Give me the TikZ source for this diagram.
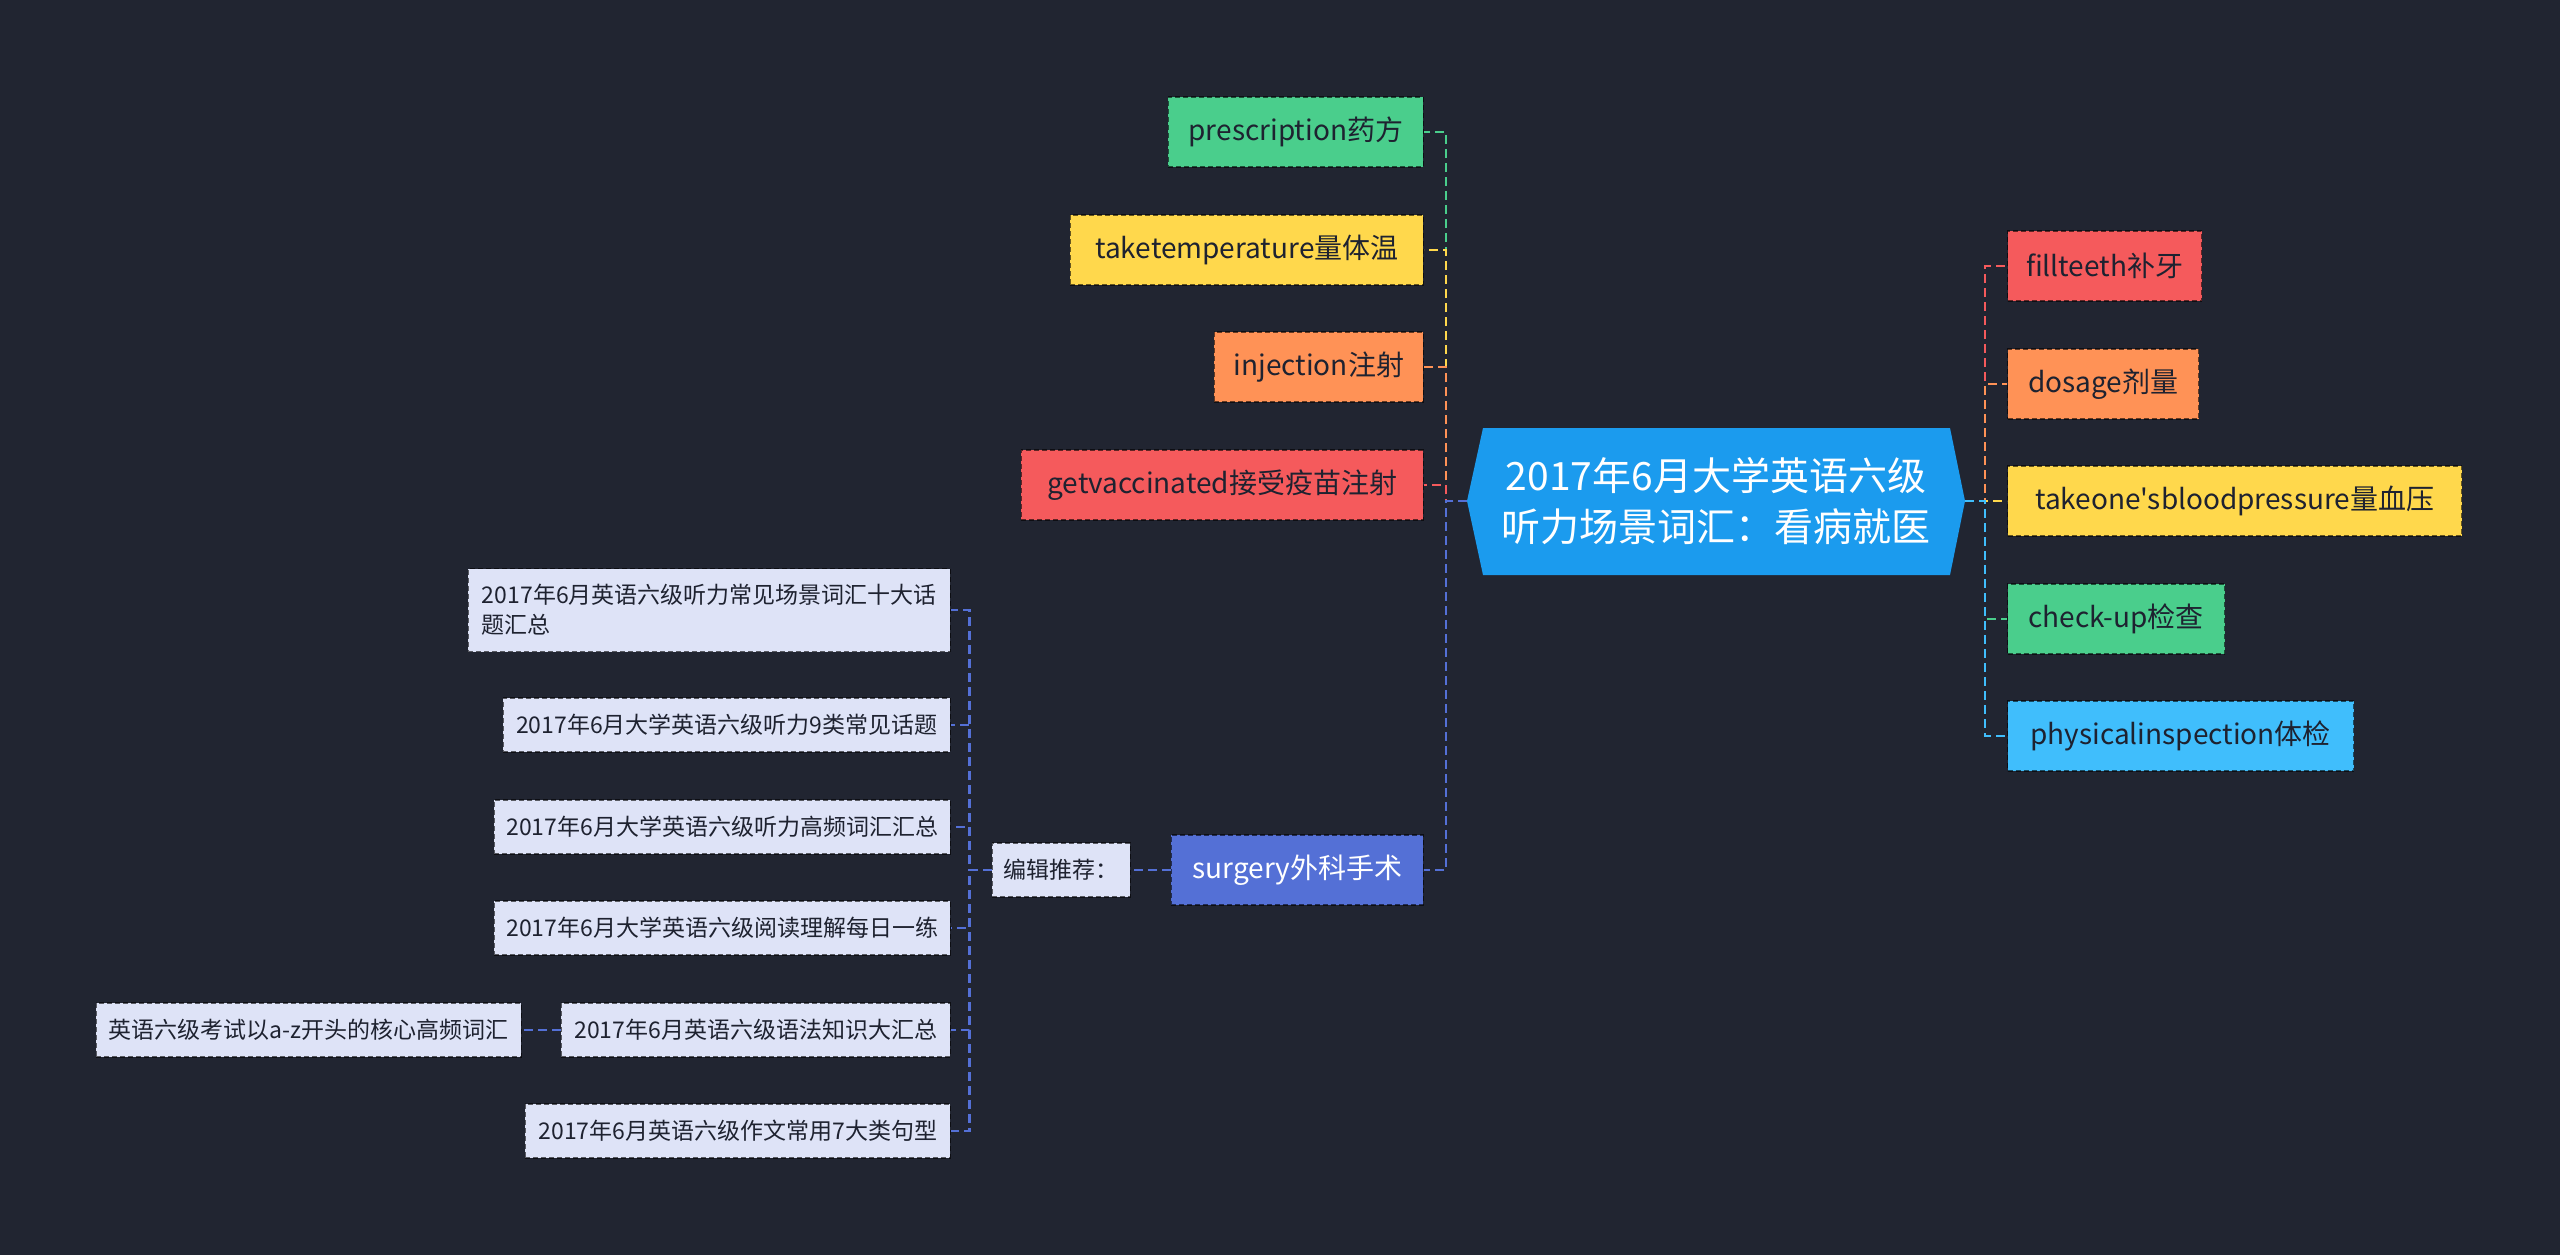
\documentclass[tikz,border=0pt]{standalone}
\usepackage{fontspec}
\setmainfont{Noto Sans CJK SC}[Ligatures=TeXOff]
\usetikzlibrary{positioning}

\definecolor{bgc}{RGB}{33,37,49}
\definecolor{cgreen}{RGB}{74,206,140}
\definecolor{cyellow}{RGB}{255,216,76}
\definecolor{corange}{RGB}{255,146,86}
\definecolor{cred}{RGB}{245,90,92}
\definecolor{croot}{RGB}{27,155,238}
\definecolor{csky}{RGB}{64,190,252}
\definecolor{csurg}{RGB}{84,112,214}
\definecolor{crec}{RGB}{222,227,247}
\definecolor{tdark}{RGB}{30,34,48}

\tikzset{
  topic/.style={draw=black,draw opacity=0.6,dash pattern=on 5pt off 3pt,line width=1.3pt,minimum height=70pt,inner xsep=0pt,font=\fontsize{28}{34}\selectfont,text=tdark},
  recbox/.style={fill=crec,draw=black,draw opacity=0.6,dash pattern=on 5pt off 3pt,line width=1.3pt,minimum height=54pt,inner xsep=0pt,font=\fontsize{23}{30}\selectfont,text=tdark},
  link/.style={draw=#1,line width=2.5pt,dash pattern=on 9pt off 5pt},
}

\begin{document}
\begin{tikzpicture}[x=1pt,y=-1pt]
\fill[bgc] (0,0) rectangle (2560,1255);

% central topic
\fill[croot] (1467,501) -- (1483,428) -- (1950,428) -- (1965,501) -- (1950,575) -- (1483,575) -- cycle;
\node[font=\fontsize{39}{51}\selectfont,text=white,align=center] (root) at (1716,501) {2017年6月大学英语六级\\听力场景词汇：看病就医};
\coordinate (rootL) at (1467,501);
\coordinate (rootR) at (1965,501);

% left branch
\node[topic,fill=cgreen,minimum width=255pt,anchor=east] (lt0) at (1424,132) {prescription药方};
\node[topic,fill=cyellow,minimum width=353pt,anchor=east] (lt1) at (1424,250) {taketemperature量体温};
\node[topic,fill=corange,minimum width=209pt,anchor=east] (lt2) at (1424,367) {injection注射};
\node[topic,fill=cred,minimum width=402pt,anchor=east] (lt3) at (1424,485) {getvaccinated接受疫苗注射};
\node[topic,fill=csurg,text=white,minimum width=252pt,anchor=east] (lt4) at (1424,870) {surgery外科手术};

% right branch
\node[topic,fill=cred,minimum width=194pt,anchor=west] (rt0) at (2007,266) {fillteeth补牙};
\node[topic,fill=corange,minimum width=191pt,anchor=west] (rt1) at (2007,384) {dosage剂量};
\node[topic,fill=cyellow,minimum width=454pt,anchor=west] (rt2) at (2007,501) {takeone'sbloodpressure量血压};
\node[topic,fill=cgreen,minimum width=217pt,anchor=west] (rt3) at (2007,619) {check-up检查};
\node[topic,fill=csky,minimum width=346pt,anchor=west] (rt4) at (2007,736) {physicalinspection体检};

% recommended links
\node[recbox,minimum width=138pt,anchor=east] (rcx) at (1131,870) {编辑推荐：};
\node[recbox,minimum width=482pt,minimum height=83pt,align=left,anchor=east] (rc0) at (951,610) {2017年6月英语六级听力常见场景词汇十大话\\题汇总};
\node[recbox,minimum width=447pt,anchor=east] (rc1) at (951,725) {2017年6月大学英语六级听力9类常见话题};
\node[recbox,minimum width=456pt,anchor=east] (rc2) at (951,827) {2017年6月大学英语六级听力高频词汇汇总};
\node[recbox,minimum width=456pt,anchor=east] (rc3) at (951,928) {2017年6月大学英语六级阅读理解每日一练};
\node[recbox,minimum width=389pt,anchor=east] (rc4) at (951,1030) {2017年6月英语六级语法知识大汇总};
\node[recbox,minimum width=425pt,anchor=east] (rc5) at (951,1131) {2017年6月英语六级作文常用7大类句型};
\node[recbox,minimum width=425pt,anchor=east] (rcsub) at (522,1030) {英语六级考试以a-z开头的核心高频词汇};

\draw[link=cgreen] (rootL) -- ++(-21,0) |- (lt0.east);
\draw[link=cyellow] (rootL) -- ++(-21,0) |- (lt1.east);
\draw[link=corange] (rootL) -- ++(-21,0) |- (lt2.east);
\draw[link=cred] (rootL) -- ++(-21,0) |- (lt3.east);
\draw[link=csurg] (rootL) -- ++(-21,0) |- (lt4.east);

\draw[link=cred] (rootR) -- ++(20,0) |- (rt0.west);
\draw[link=corange] (rootR) -- ++(20,0) |- (rt1.west);
\draw[link=cyellow] (rootR) -- ++(20,0) |- (rt2.west);
\draw[link=cgreen] (rootR) -- ++(20,0) |- (rt3.west);
\draw[link=csky] (rootR) -- ++(20,0) |- (rt4.west);

\draw[link=csurg] (lt4.west) -- (rcx.east);
\foreach \i in {0,...,5}
  \draw[link=csurg] (rcx.west) -- ++(-22,0) |- (rc\i.east);
\draw[link=csurg] (rc4.west) -- (rcsub.east);
\end{tikzpicture}
\end{document}
